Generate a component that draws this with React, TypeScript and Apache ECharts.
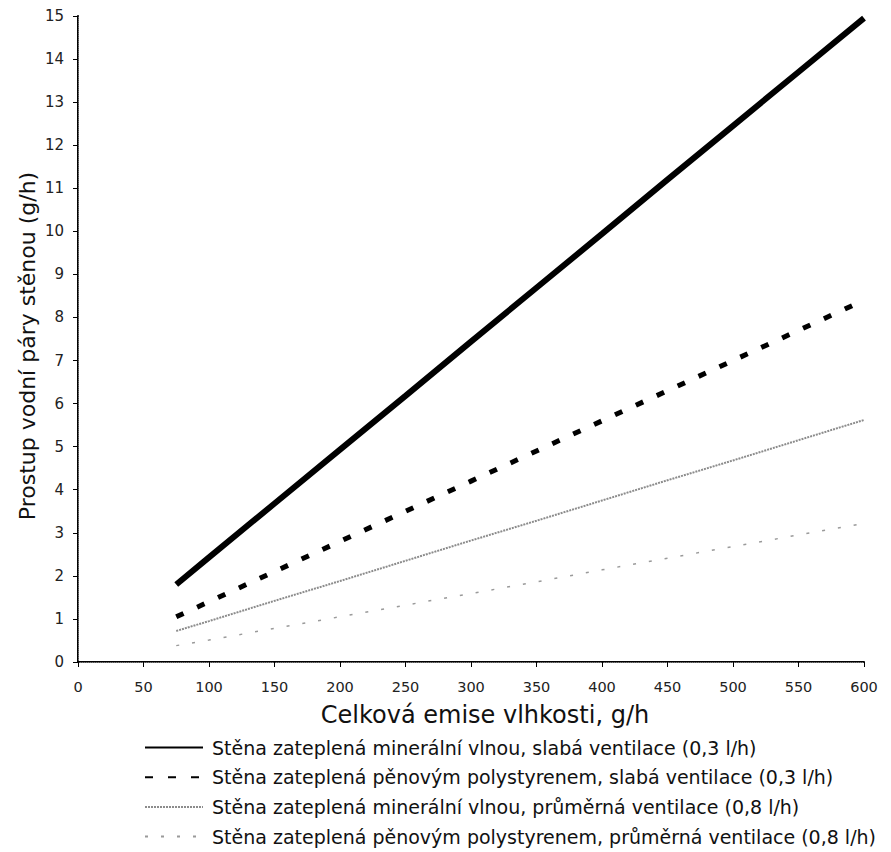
import React, { useEffect, useRef } from "react";
import * as echarts from "echarts";

const emission = [75, 100, 150, 200, 250, 300, 350, 400, 450, 500, 550, 600];
const mineralWeak = [1.8, 2.43, 3.68, 4.93, 6.18, 7.44, 8.69, 9.94, 11.2, 12.45, 13.7, 14.95];
const polyWeak = [1.05, 1.4, 2.1, 2.8, 3.5, 4.2, 4.9, 5.6, 6.3, 7.0, 7.7, 8.4];
const mineralAvg = [0.72, 0.95, 1.42, 1.88, 2.35, 2.82, 3.28, 3.75, 4.22, 4.68, 5.15, 5.62];
const polyAvg = [0.38, 0.51, 0.78, 1.05, 1.32, 1.59, 1.86, 2.14, 2.41, 2.68, 2.95, 3.22];

const seriesNames = [
  "Stěna zateplená minerální vlnou, slabá ventilace (0,3 l/h)",
  "Stěna zateplená pěnovým polystyrenem, slabá ventilace (0,3 l/h)",
  "Stěna zateplená minerální vlnou, průměrná ventilace (0,8 l/h)",
  "Stěna zateplená pěnovým polystyrenem, průměrná ventilace (0,8 l/h)",
];
const xTitle = "Celková emise vlhkosti, g/h";
const yTitle = "Prostup vodní páry stěnou (g/h)";

const FONT = "'DejaVu Sans', Verdana, sans-serif";

export default function App() {
  const ref = useRef<HTMLDivElement>(null);
  useEffect(() => {
    if (!ref.current) return;
    const chart = echarts.init(ref.current, undefined, { renderer: "svg" });
    const pair = (ys: number[]) => emission.map((x, i) => [x, ys[i]]);
    const styles = [
      { color: "#000", width: 6, type: "solid" as any },
      { color: "#000", width: 5, type: [8, 15] as any },
      { color: "#8c8c8c", width: 2, type: [2, 1] as any },
      { color: "#9a9a9a", width: 1.5, type: [3, 13] as any },
    ];
    const data = [mineralWeak, polyWeak, mineralAvg, polyAvg];
    chart.setOption({
      animation: false,
      textStyle: { fontFamily: FONT },
      grid: { left: 78, right: 27, top: 16, bottom: 190 },
      xAxis: [
        {
          type: "value",
          min: 0,
          max: 600,
          interval: 50,
          axisLine: { lineStyle: { color: "#000", width: 2 } },
          axisTick: { show: true, length: 5, lineStyle: { color: "#000" } },
          axisLabel: { color: "#222", fontSize: 14.5, margin: 17, fontFamily: FONT },
          splitLine: { show: false },
        },
        {
          type: "value",
          position: "top",
          min: 0,
          max: 600,
          axisLine: { show: true, lineStyle: { color: "#777", width: 1, type: "dotted" } },
          axisTick: { show: false },
          axisLabel: { show: false },
          splitLine: { show: false },
        },
      ],
      yAxis: [
        {
          type: "value",
          min: 0,
          max: 15,
          interval: 1,
          axisLine: { show: true, lineStyle: { color: "#000", width: 2 } },
          axisTick: { show: true, length: 5, lineStyle: { color: "#000" } },
          axisLabel: { color: "#222", fontSize: 15, margin: 14, fontFamily: FONT },
          splitLine: { show: false },
        },
        {
          type: "value",
          position: "right",
          min: 0,
          max: 15,
          axisLine: { show: true, lineStyle: { color: "#777", width: 1, type: "dotted" } },
          axisTick: { show: false },
          axisLabel: { show: false },
          splitLine: { show: false },
        },
      ],
      legend: {
        orient: "vertical",
        left: 144,
        top: 738,
        height: 114,
        padding: 0,
        itemWidth: 58,
        itemHeight: 14,
        itemGap: 10.7,
        itemStyle: { opacity: 0 },
        textStyle: { color: "#111", fontSize: 19, fontFamily: FONT, padding: [0, 0, 0, 4] },
        data: seriesNames,
      },
      graphic: [
        {
          type: "text",
          x: 485,
          y: 715,
          style: {
            text: xTitle,
            fontSize: 24,
            fill: "#111",
            fontFamily: FONT,
            align: "center",
            verticalAlign: "middle",
          },
        },
        {
          type: "text",
          x: 27,
          y: 346,
          rotation: Math.PI / 2,
          style: {
            text: yTitle,
            fontSize: 22,
            fill: "#111",
            fontFamily: FONT,
            align: "center",
            verticalAlign: "middle",
          },
        },
      ],
      series: data.map((ys, i) => ({
        name: seriesNames[i],
        type: "line",
        data: pair(ys),
        showSymbol: false,
        symbol: "none",
        lineStyle: styles[i],
        itemStyle: { color: styles[i].color },
        z: 10 - i,
      })),
    });
    return () => chart.dispose();
  }, []);
  return (
    <div
      ref={ref}
      style={{ position: "absolute", left: 0, top: 0, width: 891, height: 852 }}
    />
  );
}
